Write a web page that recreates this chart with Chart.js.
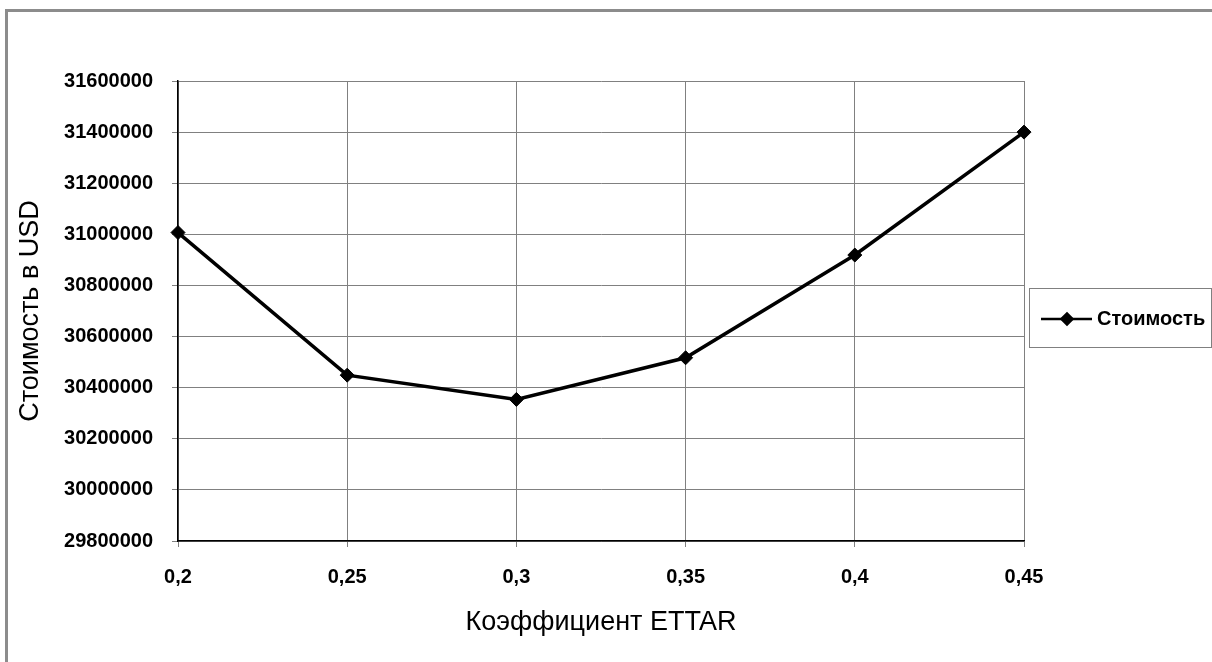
<!DOCTYPE html>
<html lang="ru">
<head>
<meta charset="utf-8">
<title>Стоимость</title>
<script src="https://cdn.jsdelivr.net/npm/chart.js@4.4.1/dist/chart.umd.min.js"></script>
<style>
    html, body {
        margin: 0;
        padding: 0;
        background: #fff;
        overflow: hidden;
    }
    #frame {
        position: absolute;
        left: 5px;
        top: 9px;
        width: 1220px;
        height: 670px;
        border-top: 3px solid #8c8c8c;
        border-left: 3px solid #8c8c8c;
        pointer-events: none;
    }
    #wrap {
        position: absolute;
        left: 0;
        top: 0;
        width: 1212px;
        height: 662px;
    }
</style>
</head>
<body>
<div id="wrap"><canvas id="costChart" width="1212" height="662"></canvas></div>
<div id="frame"></div>

<script>
// Chart data

const categories = ['0,2', '0,25', '0,3', '0,35', '0,4', '0,45'];
const costValues = [31007000, 30449000, 30354000, 30517000, 30919000, 31400000];
const seriesLabel = 'Стоимость';
const yTitle = 'Стоимость в USD';
const xTitle = 'Коэффициент ETTAR';
const yMin = 29800000;
const yMax = 31600000;
const yStep = 200000;

const FONT = "'Liberation Sans', Arial, sans-serif";

// ============================================
// Legend box (Excel style, line + marker sample)
// ============================================

const boxLegend = {
    id: 'boxLegend',
    afterDraw(chart) {
        const ctx = chart.ctx;
        const ds = chart.data.datasets[0];
        const left = 1029.5, top = 288.5, right = 1211.5, bottom = 347.5;
        const midY = (top + bottom) / 2 + 1;

        ctx.save();
        ctx.strokeStyle = '#808080';
        ctx.lineWidth = 1;
        ctx.strokeRect(left, top, right - left, bottom - top);

        // sample line
        ctx.strokeStyle = ds.borderColor;
        ctx.lineWidth = 2.5;
        ctx.beginPath();
        ctx.moveTo(1041, midY);
        ctx.lineTo(1092, midY);
        ctx.stroke();

        // sample marker
        Chart.helpers.drawPoint(ctx, {
            pointStyle: 'rectRot',
            radius: 5.5,
            borderWidth: 1
        }, 1067, midY);
        ctx.fillStyle = ds.pointBackgroundColor;
        ctx.fill();

        ctx.fillStyle = '#000';
        ctx.font = 'bold 20px ' + FONT;
        ctx.textBaseline = 'middle';
        ctx.textAlign = 'left';
        ctx.fillText(ds.label, 1097, midY);
        ctx.restore();
    }
};

// ============================================
// Chart Initialization
// ============================================

function initializeCostChart() {
    const ctx = document.getElementById('costChart').getContext('2d');

    new Chart(ctx, {
        type: 'line',
        data: {
            labels: categories,
            datasets: [{
                label: seriesLabel,
                data: costValues,
                borderColor: '#000',
                backgroundColor: '#000',
                borderWidth: 3.5,
                tension: 0,
                fill: false,
                pointStyle: 'rectRot',
                pointRadius: 7,
                pointBorderWidth: 1,
                pointBackgroundColor: '#000',
                pointBorderColor: '#000'
            }]
        },
        options: {
            responsive: false,
            animation: false,
            layout: {
                padding: { left: 0, top: 81, right: 188, bottom: 0 }
            },
            plugins: {
                legend: { display: false },
                tooltip: { enabled: false }
            },
            scales: {
                x: {
                    offset: false,
                    afterFit: function(scale) {
                        scale.height = 121;
                    },
                    grid: {
                        color: '#808080',
                        lineWidth: 1,
                        tickLength: 6,
                        tickColor: '#808080'
                    },
                    border: { color: '#000', width: 1.5 },
                    ticks: {
                        color: '#000',
                        padding: 18,
                        maxRotation: 0,
                        font: { family: FONT, size: 20, weight: 'bold' }
                    },
                    title: {
                        display: true,
                        text: xTitle,
                        color: '#000',
                        padding: { top: 0, bottom: 23 },
                        font: { family: FONT, size: 27, weight: 'normal' }
                    }
                },
                y: {
                    min: yMin,
                    max: yMax,
                    afterFit: function(scale) {
                        scale.width = 178;
                    },
                    grid: {
                        color: '#808080',
                        lineWidth: 1,
                        tickLength: 6,
                        tickColor: '#808080'
                    },
                    border: { color: '#000', width: 1.5 },
                    ticks: {
                        stepSize: yStep,
                        color: '#000',
                        padding: 19,
                        font: { family: FONT, size: 20, weight: 'bold' },
                        callback: function(value) {
                            return String(value);
                        }
                    },
                    title: {
                        display: true,
                        text: yTitle,
                        color: '#000',
                        padding: { top: 14, bottom: 0 },
                        font: { family: FONT, size: 27, weight: 'normal' }
                    }
                }
            }
        },
        plugins: [boxLegend]
    });
}

document.addEventListener('DOMContentLoaded', function() {
    initializeCostChart();
});
</script>
</body>
</html>
